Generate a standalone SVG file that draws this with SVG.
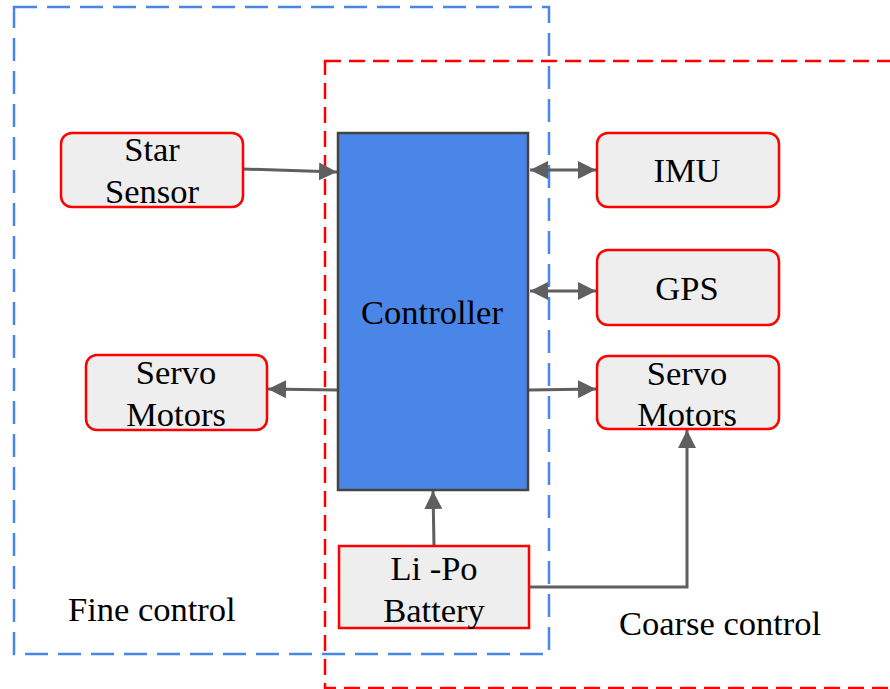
<svg xmlns="http://www.w3.org/2000/svg" width="890" height="689" viewBox="0 0 890 689">
  <defs>
    <style>
      .zone-fine { fill: none; stroke: #4a86e8; stroke-width: 2.5; stroke-dasharray: 23 10; }
      .zone-coarse { fill: none; stroke: #ff0000; stroke-width: 2.5; stroke-dasharray: 16 8; }
      .box { fill: #eeeeee; stroke: #ff0000; stroke-width: 2.5; }
      .ctrl { fill: #4a86e8; stroke: #444444; stroke-width: 2.5; }
      text { font-family: 'Liberation Serif', Tinos, 'Times New Roman', 'Nimbus Roman', 'DejaVu Serif', serif; font-size: 34.5px; fill: #000000; }
      .lbl { text-anchor: middle; }
      .wire { fill: none; stroke: #5f5f5f; stroke-width: 3; }
    </style>
    <marker id="head" viewBox="0 0 10 10" refX="10" refY="5" markerWidth="6" markerHeight="6" orient="auto-start-reverse" markerUnits="strokeWidth">
      <path d="M0,0 L10,5 L0,10 z" fill="#5f5f5f"/>
    </marker>
  </defs>

  <rect width="890" height="689" fill="#ffffff"/>

  <!-- control zones -->
  <rect class="zone-fine" x="14" y="7" width="535" height="647"/>
  <rect class="zone-coarse" x="325" y="61" width="580" height="627"/>
  <text x="68" y="621">Fine control</text>
  <text x="619" y="635">Coarse control</text>

  <!-- connectors -->
  <g id="connectors">
    <line class="wire" x1="243" y1="169" x2="337" y2="172" marker-end="url(#head)"/>
    <line class="wire" x1="530" y1="170" x2="596" y2="170" marker-start="url(#head)" marker-end="url(#head)"/>
    <line class="wire" x1="530" y1="291" x2="596" y2="291" marker-start="url(#head)" marker-end="url(#head)"/>
    <line class="wire" x1="529" y1="390" x2="596" y2="389" marker-end="url(#head)"/>
    <line class="wire" x1="337" y1="390" x2="268" y2="389" marker-end="url(#head)"/>
    <line class="wire" x1="434" y1="546" x2="433" y2="491" marker-end="url(#head)"/>
    <polyline class="wire" points="529,587 687,587 687,430" marker-end="url(#head)"/>
  </g>

  <g id="controller">
    <rect class="ctrl" x="338" y="133" width="190" height="357"/>
    <text class="lbl" x="432" y="324">Controller</text>
  </g>

  <g id="star-sensor">
    <rect class="box" x="61" y="133" width="182" height="74" rx="11"/>
    <text class="lbl" x="152" y="161">Star</text>
    <text class="lbl" x="152" y="203">Sensor</text>
  </g>

  <g id="servo-fine">
    <rect class="box" x="86" y="355" width="181" height="75" rx="11"/>
    <text class="lbl" x="176" y="384">Servo</text>
    <text class="lbl" x="176" y="426">Motors</text>
  </g>

  <g id="imu">
    <rect class="box" x="597" y="133" width="182" height="74" rx="11"/>
    <text class="lbl" x="687" y="182">IMU</text>
  </g>

  <g id="gps">
    <rect class="box" x="597" y="250" width="182" height="75" rx="11"/>
    <text class="lbl" x="687" y="300">GPS</text>
  </g>

  <g id="servo-coarse">
    <rect class="box" x="597" y="356" width="182" height="73" rx="11"/>
    <text class="lbl" x="687" y="385">Servo</text>
    <text class="lbl" x="687" y="426">Motors</text>
  </g>

  <g id="battery">
    <rect class="box" x="339" y="546" width="190" height="82"/>
    <text class="lbl" x="434" y="580">Li -Po</text>
    <text class="lbl" x="434" y="622">Battery</text>
  </g>
</svg>
